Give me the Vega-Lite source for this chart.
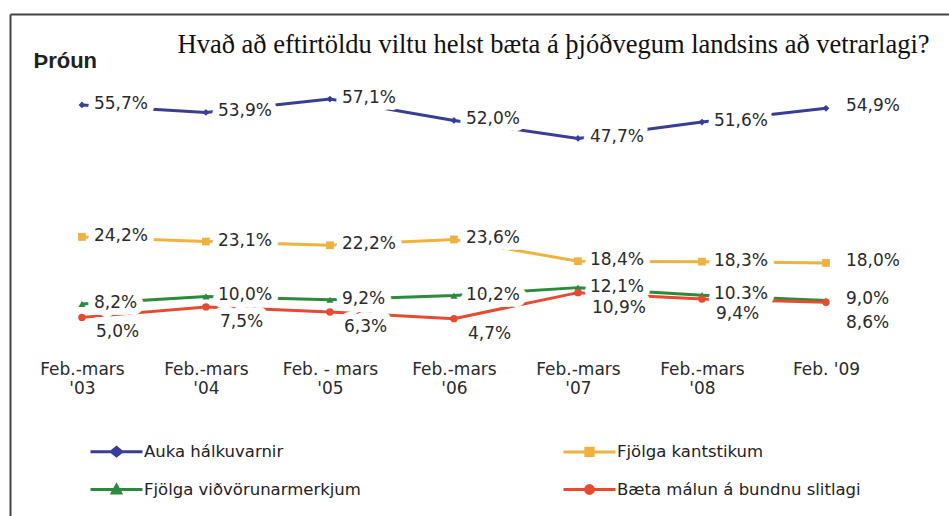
{
  "$schema": "https://vega.github.io/schema/vega-lite/v6.json",
  "width": 939,
  "height": 502,
  "autosize": {"type": "none"},
  "padding": {"left": 10, "top": 14, "right": 0, "bottom": 0},
  "background": "white",
  "config": {"view": {"stroke": null}},
  "data": {"values": [
    {"period": "Feb.-mars|'03", "series": "Auka hálkuvarnir", "value": 55.7},
    {"period": "Feb.-mars|'04", "series": "Auka hálkuvarnir", "value": 53.9},
    {"period": "Feb. - mars|'05", "series": "Auka hálkuvarnir", "value": 57.1},
    {"period": "Feb.-mars|'06", "series": "Auka hálkuvarnir", "value": 52.0},
    {"period": "Feb.-mars|'07", "series": "Auka hálkuvarnir", "value": 47.7},
    {"period": "Feb.-mars|'08", "series": "Auka hálkuvarnir", "value": 51.6},
    {"period": "Feb. '09", "series": "Auka hálkuvarnir", "value": 54.9},
    {"period": "Feb.-mars|'03", "series": "Fjölga kantstikum", "value": 24.2},
    {"period": "Feb.-mars|'04", "series": "Fjölga kantstikum", "value": 23.1},
    {"period": "Feb. - mars|'05", "series": "Fjölga kantstikum", "value": 22.2},
    {"period": "Feb.-mars|'06", "series": "Fjölga kantstikum", "value": 23.6},
    {"period": "Feb.-mars|'07", "series": "Fjölga kantstikum", "value": 18.4},
    {"period": "Feb.-mars|'08", "series": "Fjölga kantstikum", "value": 18.3},
    {"period": "Feb. '09", "series": "Fjölga kantstikum", "value": 18.0},
    {"period": "Feb.-mars|'03", "series": "Fjölga viðvörunarmerkjum", "value": 8.2},
    {"period": "Feb.-mars|'04", "series": "Fjölga viðvörunarmerkjum", "value": 10.0},
    {"period": "Feb. - mars|'05", "series": "Fjölga viðvörunarmerkjum", "value": 9.2},
    {"period": "Feb.-mars|'06", "series": "Fjölga viðvörunarmerkjum", "value": 10.2},
    {"period": "Feb.-mars|'07", "series": "Fjölga viðvörunarmerkjum", "value": 12.1},
    {"period": "Feb.-mars|'08", "series": "Fjölga viðvörunarmerkjum", "value": 10.3},
    {"period": "Feb. '09", "series": "Fjölga viðvörunarmerkjum", "value": 9.0},
    {"period": "Feb.-mars|'03", "series": "Bæta málun á bundnu slitlagi", "value": 5.0},
    {"period": "Feb.-mars|'04", "series": "Bæta málun á bundnu slitlagi", "value": 7.5},
    {"period": "Feb. - mars|'05", "series": "Bæta málun á bundnu slitlagi", "value": 6.3},
    {"period": "Feb.-mars|'06", "series": "Bæta málun á bundnu slitlagi", "value": 4.7},
    {"period": "Feb.-mars|'07", "series": "Bæta málun á bundnu slitlagi", "value": 10.9},
    {"period": "Feb.-mars|'08", "series": "Bæta málun á bundnu slitlagi", "value": 9.4},
    {"period": "Feb. '09", "series": "Bæta málun á bundnu slitlagi", "value": 8.6}
  ]},
  "transform": [
    {"calculate": "replace(format(datum.value, '.1f'), '.', ',') + '%'", "as": "label"}
  ],
  "resolve": {"axis": {"x": "independent", "y": "independent"}},
  "layer": [
    {
      "mark": {"type": "line", "strokeWidth": 3},
      "encoding": {
        "x": {
          "field": "period", "type": "ordinal",
          "scale": {"type": "point", "padding": 0.786, "align": 0.369,
            "domain": ["Feb.-mars|'03", "Feb.-mars|'04", "Feb. - mars|'05", "Feb.-mars|'06", "Feb.-mars|'07", "Feb.-mars|'08", "Feb. '09"]},
          "axis": {
            "orient": "bottom", "offset": -155, "domain": false, "ticks": false, "grid": false,
            "labelPadding": 0, "labelAngle": 0, "labelFont": "DejaVu Sans", "labelFontSize": 17,
            "labelColor": "#2a2a2a", "labelLineHeight": 19, "labelExpr": "split(datum.label, '|')",
            "title": null
          }
        },
        "y": {
          "field": "value", "type": "quantitative",
          "scale": {"domain": [-42.4, 77.4], "nice": false, "zero": false},
          "axis": {
            "orient": "left", "domain": true, "domainColor": "#444", "domainWidth": 2,
            "ticks": false, "labels": false, "grid": false,
            "title": "Þróun", "titleAngle": 0, "titleX": 23, "titleY": 53,
            "titleAlign": "left", "titleBaseline": "alphabetic",
            "titleFont": "Liberation Sans", "titleFontSize": 22, "titleFontWeight": "bold", "titleColor": "#222"
          }
        },
        "color": {
          "field": "series", "type": "nominal",
          "scale": {
            "domain": ["Auka hálkuvarnir", "Fjölga kantstikum", "Fjölga viðvörunarmerkjum", "Bæta málun á bundnu slitlagi"],
            "range": ["#3a3d98", "#f0b23e", "#2c8a3c", "#e9492f"]
          },
          "legend": {
            "orient": "none", "legendX": 79, "legendY": 410, "title": null,
            "columns": 2, "direction": "horizontal", "columnPadding": 196, "rowPadding": -13,
            "symbolSize": 2704, "symbolStrokeWidth": 3, "labelOffset": 0, "symbolType": "M-1,0H1",
            "labelFont": "DejaVu Sans", "labelFontSize": 16.5, "labelColor": "#222", "labelLimit": 400,
            "encode": {
              "symbols": {
                "update": {
                  "shape": {"signal": "datum.value === 'Auka hálkuvarnir' ? 'M-1,0H1M-0.2,0L0,-0.16L0.2,0L0,0.16Z' : datum.value === 'Fjölga kantstikum' ? 'M-1,0H1M-0.14,-0.14H0.14V0.14H-0.14Z' : datum.value === 'Fjölga viðvörunarmerkjum' ? 'M-1,0H1M-0.16,0.13L0,-0.16L0.16,0.13Z' : 'M-1,0H1M-0.15,0A0.15,0.15 0 1,0 0.15,0A0.15,0.15 0 1,0 -0.15,0Z'"},
                  "fill": {"signal": "scale('color', datum.value)"},
                  "stroke": {"signal": "scale('color', datum.value)"},
                  "strokeWidth": {"value": 3},
                  "opacity": {"value": 1}
                }
              }
            }
          }
        }
      }
    },
    {
      "transform": [{"filter": "datum.series === 'Auka hálkuvarnir'"}],
      "mark": {"type": "point", "filled": true, "opacity": 1, "size": 45, "shape": "diamond", "color": "#3a3d98"},
      "encoding": {
        "x": {
          "field": "period", "type": "ordinal",
          "axis": {
            "orient": "top", "domain": true, "domainColor": "#444", "domainWidth": 2,
            "ticks": false, "labels": false, "grid": false,
            "title": "Hvað að eftirtöldu viltu helst bæta á þjóðvegum landsins að vetrarlagi?",
            "titleX": 167, "titleY": 38, "titleAlign": "left", "titleBaseline": "alphabetic",
            "titleFont": "Liberation Serif", "titleFontSize": 26.5, "titleFontWeight": "normal", "titleColor": "#111"
          }
        },
        "y": {"field": "value", "type": "quantitative", "axis": null}
      }
    },
    {
      "transform": [{"filter": "datum.series === 'Fjölga kantstikum'"}],
      "mark": {"type": "point", "filled": true, "opacity": 1, "size": 60, "shape": "square", "color": "#f0b23e"},
      "encoding": {
        "x": {"field": "period", "type": "ordinal", "axis": null},
        "y": {"field": "value", "type": "quantitative", "axis": null}
      }
    },
    {
      "transform": [{"filter": "datum.series === 'Fjölga viðvörunarmerkjum'"}],
      "mark": {"type": "point", "filled": true, "opacity": 1, "size": 50, "shape": "triangle-up", "color": "#2c8a3c"},
      "encoding": {
        "x": {"field": "period", "type": "ordinal", "axis": null},
        "y": {"field": "value", "type": "quantitative", "axis": null}
      }
    },
    {
      "transform": [{"filter": "datum.series === 'Bæta málun á bundnu slitlagi'"}],
      "mark": {"type": "point", "filled": true, "opacity": 1, "size": 55, "shape": "circle", "color": "#e9492f"},
      "encoding": {
        "x": {"field": "period", "type": "ordinal", "axis": null},
        "y": {"field": "value", "type": "quantitative", "axis": null}
      }
    },
    {
      "transform": [{"filter": "datum.series !== 'Bæta málun á bundnu slitlagi' && datum.period !== \"Feb. '09\""}],
      "mark": {"type": "text", "align": "left", "baseline": "middle", "dx": 12, "dy": -1, "font": "DejaVu Sans", "fontSize": 17, "stroke": "white", "strokeWidth": 14, "strokeJoin": "round", "fill": "white"},
      "encoding": {
        "x": {"field": "period", "type": "ordinal", "axis": null},
        "y": {"field": "value", "type": "quantitative", "axis": null},
        "text": {"field": "label"}
      }
    },
    {
      "transform": [{"filter": "datum.series !== 'Bæta málun á bundnu slitlagi' && datum.period !== \"Feb. '09\""}],
      "mark": {"type": "text", "align": "left", "baseline": "middle", "dx": 12, "dy": -1, "font": "DejaVu Sans", "fontSize": 17, "color": "#2a2a2a"},
      "encoding": {
        "x": {"field": "period", "type": "ordinal", "axis": null},
        "y": {"field": "value", "type": "quantitative", "axis": null},
        "text": {"field": "label"}
      }
    },
    {
      "transform": [{"filter": "datum.series === 'Bæta málun á bundnu slitlagi' && datum.period !== \"Feb. '09\""}],
      "mark": {"type": "text", "align": "left", "baseline": "middle", "dx": 14, "dy": 15, "font": "DejaVu Sans", "fontSize": 17, "stroke": "white", "strokeWidth": 14, "strokeJoin": "round", "fill": "white"},
      "encoding": {
        "x": {"field": "period", "type": "ordinal", "axis": null},
        "y": {"field": "value", "type": "quantitative", "axis": null},
        "text": {"field": "label"}
      }
    },
    {
      "transform": [{"filter": "datum.series === 'Bæta málun á bundnu slitlagi' && datum.period !== \"Feb. '09\""}],
      "mark": {"type": "text", "align": "left", "baseline": "middle", "dx": 14, "dy": 15, "font": "DejaVu Sans", "fontSize": 17, "color": "#2a2a2a"},
      "encoding": {
        "x": {"field": "period", "type": "ordinal", "axis": null},
        "y": {"field": "value", "type": "quantitative", "axis": null},
        "text": {"field": "label"}
      }
    },
    {
      "transform": [{"filter": "datum.series !== 'Bæta málun á bundnu slitlagi' && datum.period === \"Feb. '09\""}],
      "mark": {"type": "text", "align": "left", "baseline": "middle", "dx": 20, "dy": -2, "font": "DejaVu Sans", "fontSize": 17, "color": "#2a2a2a"},
      "encoding": {
        "x": {"field": "period", "type": "ordinal", "axis": null},
        "y": {"field": "value", "type": "quantitative", "axis": null},
        "text": {"field": "label"}
      }
    },
    {
      "transform": [{"filter": "datum.series === 'Bæta málun á bundnu slitlagi' && datum.period === \"Feb. '09\""}],
      "mark": {"type": "text", "align": "left", "baseline": "middle", "dx": 20, "dy": 21, "font": "DejaVu Sans", "fontSize": 17, "color": "#2a2a2a"},
      "encoding": {
        "x": {"field": "period", "type": "ordinal", "axis": null},
        "y": {"field": "value", "type": "quantitative", "axis": null},
        "text": {"field": "label"}
      }
    }
  ]
}
